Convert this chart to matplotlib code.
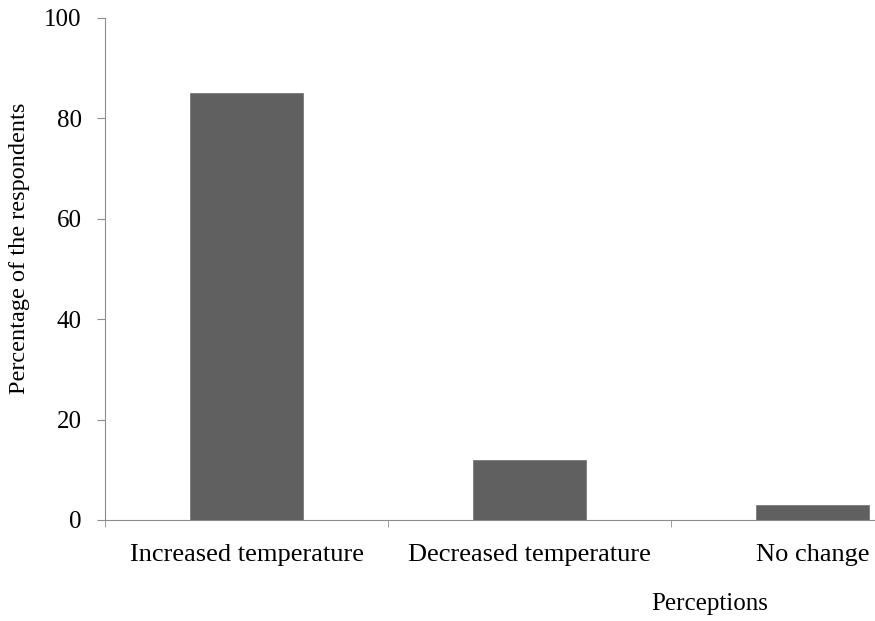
import numpy as np
import matplotlib
matplotlib.use("Agg")
import matplotlib.pyplot as plt

categories = ["Increased temperature", "Decreased temperature", "No change"]
percentages = [85, 12, 3]
y_ticks = [0, 20, 40, 60, 80, 100]

plt.rcParams['font.family'] = ['Liberation Serif', 'DejaVu Serif']

fig = plt.figure(figsize=(8.75, 6.21), dpi=100)
# axes runs past the right edge of the figure, as in the original crop
ax = fig.add_axes([105 / 875, 101 / 621, 849 / 875, 502 / 621])

x = np.arange(len(categories))
ax.bar(x, percentages, width=0.4, color="#606060", edgecolor="#7a7a7a", linewidth=0.6)

ax.set_xlim(-0.5, len(categories) - 0.5)
ax.set_ylim(0, 100)
ax.set_yticks(y_ticks)
ax.set_xticks(x)
ax.set_xticklabels(categories)
ax.set_xticks(np.arange(len(categories) + 1) - 0.5, minor=True)

axis_grey = "#8c8c8c"
for side in ["top", "right"]:
    ax.spines[side].set_visible(False)
ax.spines["left"].set_color(axis_grey)
ax.spines["bottom"].set_color(axis_grey)

ax.tick_params(axis="y", direction="out", length=5.8, color=axis_grey, labelsize=18, pad=11)
ax.tick_params(axis="x", which="major", length=0, labelsize=19, pad=17.5)
ax.tick_params(axis="x", which="minor", direction="out", length=5, color=axis_grey)

fig.text(20 / 875, 1 - 248 / 621, "Percentage of the respondents", fontsize=17.5,
         rotation=90, ha="center", va="center")
fig.text(710 / 875, 1 - 604 / 621, "Perceptions", fontsize=18, ha="center", va="center")

plt.savefig("out.png", dpi=100)
